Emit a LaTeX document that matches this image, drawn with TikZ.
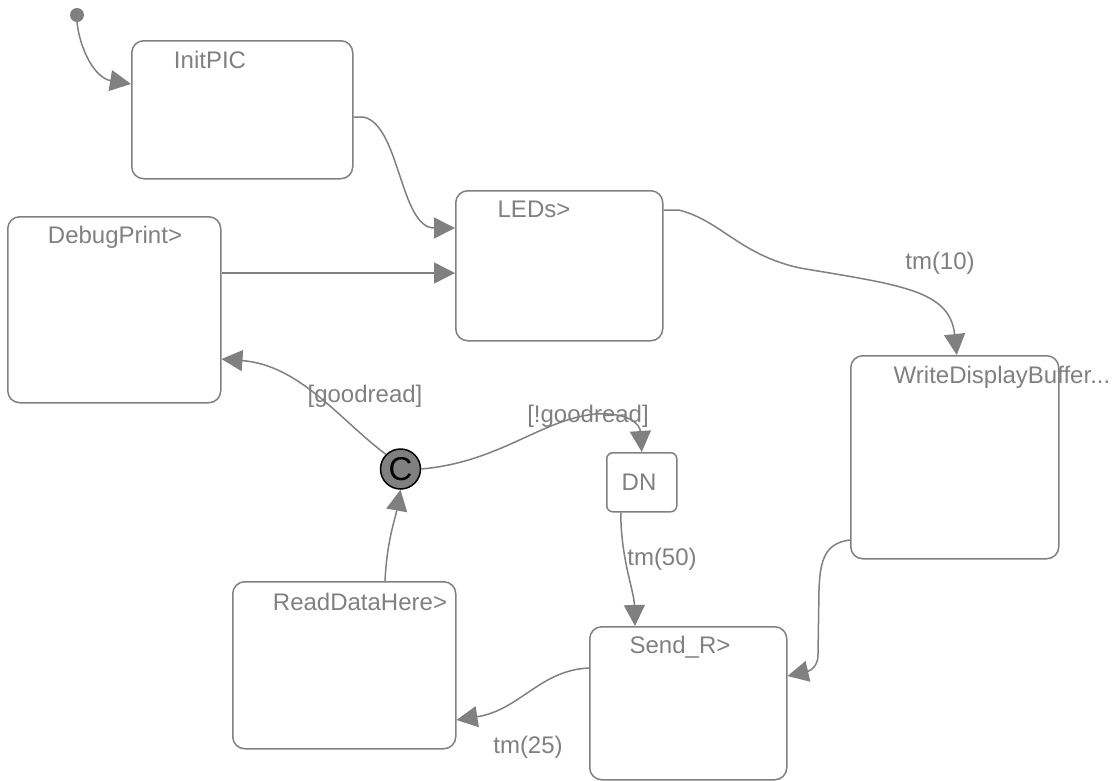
\documentclass[tikz,border=0pt]{standalone}
\usepackage{fontspec}
\setmainfont{Liberation Sans}
\usetikzlibrary{arrows.meta}
\definecolor{stgray}{HTML}{808080}

\tikzset{
  state/.style={rectangle, draw=stgray, line width=1.5pt, rounded corners=12pt, anchor=north west, inner sep=0pt},
  stname/.style={text=stgray, font=\fontsize{24}{28}\selectfont, inner sep=0pt, anchor=base},
  trans/.style={draw=stgray, line width=1.5pt, -{Triangle[length=21pt,width=21pt]}},
}

\begin{document}
\begin{tikzpicture}[x=1pt, y=-1pt]
\useasboundingbox (0,0) rectangle (1116,780);

% states
\node[state, minimum width=221pt, minimum height=138pt] (initpic) at (131,40) {};
\node[state, minimum width=207pt, minimum height=150pt] (leds) at (455,190) {};
\node[state, minimum width=213pt, minimum height=186pt] (debug) at (7,216) {};
\node[state, minimum width=208pt, minimum height=203pt] (wdb) at (850,355) {};
\node[state, minimum width=70pt, minimum height=59pt, rounded corners=6pt] (dn) at (606,452) {};
\node[state, minimum width=197pt, minimum height=153pt] (sendr) at (589,626) {};
\node[state, minimum width=223pt, minimum height=167pt] (readdata) at (232,581) {};

\node[stname] (initpic-t) at (210,68) {InitPIC};
\node[stname] (leds-t) at (534,217) {LEDs>};
\node[stname] (debug-t) at (115,243) {DebugPrint>};
\node[stname] (wdb-t) at (1002,383) {WriteDisplayBuffer...};
\node[stname] (dn-t) at (639,490) {DN};
\node[stname] (sendr-t) at (680,653) {Send\_R>};
\node[stname] (readdata-t) at (360,610) {ReadDataHere>};

% initial dot and junction
\node[circle, fill=stgray, minimum size=14pt, inner sep=0pt] (init) at (77,15) {};
\node[circle, draw=black, fill=stgray, line width=1.5pt, minimum size=40pt, inner sep=0pt,
  font=\fontsize{33}{33}\selectfont] (cjunc) at (400.5,469) {\raisebox{-2pt}{C}};

% transitions
\draw[trans] (init.south) .. controls (80,50) and (95,78) .. ([yshift=-44pt]initpic.north west);
\draw[trans] ([yshift=-77pt]initpic.north east) -- ++(10,0)
  .. controls (400,125) and (400,228) .. ([yshift=-38pt]leds.north west);
\draw[trans] ([yshift=-57pt]debug.north east) -- ([yshift=-57pt]debug.north east -| leds.west);
\draw[trans] ([yshift=-20pt]leds.north east) -- ++(15,0)
  .. controls (720,220) and (740,255) .. (800,268)
  .. controls (900,285) and (950,290) .. ([xshift=2pt]wdb.north);
\draw[trans] (cjunc.135) .. controls (340,420) and (300,365) .. ([yshift=-143pt]debug.north east);
\draw[trans] (cjunc.east) .. controls (500,462) and (540,420) .. (595,414)
  .. controls (630,412) and (640,425) .. (dn.north);
\draw[trans] ([xshift=153pt]readdata.north west) .. controls (387,540) and (395,520) .. (cjunc.south);
\draw[trans] ([xshift=-21pt]dn.south) .. controls (621,560) and (634,590) .. ([xshift=46pt]sendr.north west);
\draw[trans] ([yshift=-185pt]wdb.north west) .. controls (825,543) and (820,560) .. (819,590)
  -- (818,655) .. controls (818,670) and (805,672) .. ([yshift=-50pt]sendr.north east);
\draw[trans] ([yshift=-42pt]sendr.north west) .. controls (540,670) and (520,710) .. ([yshift=-139pt]readdata.north east);

% guards and timers
\node[stname] (l-tm10) at (940,269) {tm(10)};
\node[stname] (l-good) at (365,402) {[goodread]};
\node[stname] (l-notgood) at (588,422) {[!goodread]};
\node[stname] (l-tm50) at (662,565) {tm(50)};
\node[stname] (l-tm25) at (528,753) {tm(25)};
\end{tikzpicture}
\end{document}
